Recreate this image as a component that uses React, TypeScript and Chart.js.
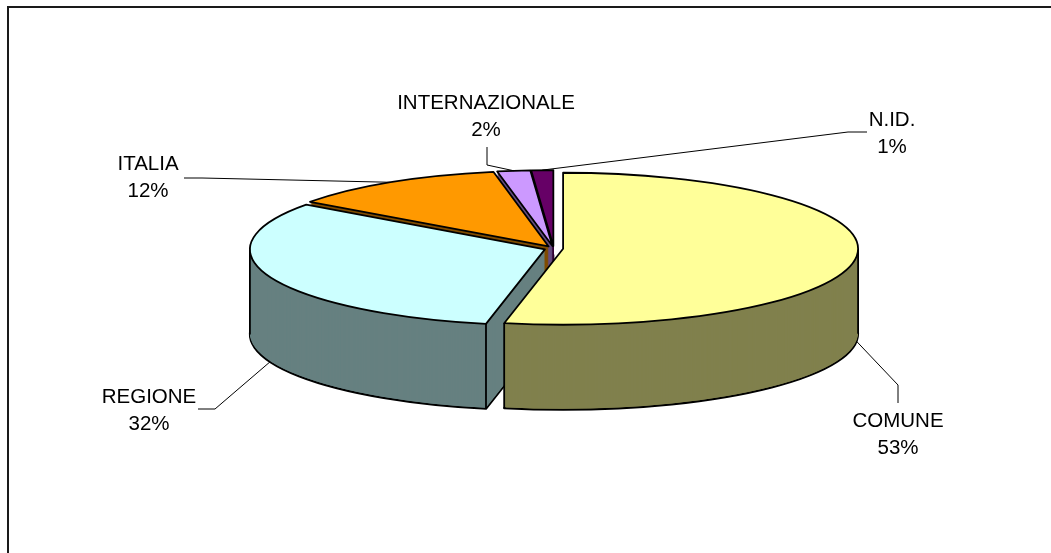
import React, { useEffect, useRef } from 'react';
import { Chart, registerables } from 'chart.js';

Chart.register(...registerables);

// ---- data ----
const categories = ['COMUNE', 'REGIONE', 'ITALIA', 'INTERNAZIONALE', 'N.ID.'];
const values = [53.2, 31.8, 12.0, 1.8, 1.2];
const topColors = ['#FFFF99', '#CCFFFF', '#FF9900', '#CC99FF', '#660066'];
const sideColors = ['#80804D', '#668080', '#804D00', '#664D80', '#330033'];

// ---- layout of the 3D projection ----
const CX = 553.7;
const CY = 248.5;
const RX = 295;
const RY = 76;
const DEPTH = 85;
const EXPLODE = 0.032;

// label text centre and leader-line bend points (screen px)
const labelLayout = [
  { tx: 898, ty: 421, path: [[898, 385], [898, 403]] },
  { tx: 149, ty: 397, path: [[215, 409], [198, 409]] },
  { tx: 148, ty: 164, path: [[202, 178], [184, 178]] },
  { tx: 486, ty: 103, path: [[487, 165], [487, 147]] },
  { tx: 892, ty: 120, path: [[848, 132], [867, 132]] },
];
const LABEL_FONT = '20.5px "Liberation Sans", Arial, sans-serif';
const LINE_GAP = 27;

export default function App() {
  const ref = useRef<HTMLCanvasElement>(null);

  useEffect(() => {
    const canvas = ref.current!;
    const total = values.reduce((a, b) => a + b, 0);
    const TAU = Math.PI * 2;

    const geom = (el: any) => {
      const mid = (el.startAngle + el.endAngle) / 2;
      return {
        mid,
        ox: CX + EXPLODE * RX * Math.cos(mid),
        oy: CY + EXPLODE * RY * Math.sin(mid),
        sx: RX / el.outerRadius,
        sy: RY / el.outerRadius,
      };
    };

    const slicePath = (ctx: CanvasRenderingContext2D, el: any, g: any, dy: number) => {
      ctx.save();
      ctx.translate(g.ox, g.oy + dy);
      ctx.scale(g.sx, g.sy);
      ctx.beginPath();
      ctx.moveTo(0, 0);
      ctx.arc(0, 0, el.outerRadius, el.startAngle, el.endAngle);
      ctx.closePath();
      ctx.restore();
    };

    const contains = (el: any, a: number) => {
      const k = Math.ceil((el.startAngle - a) / TAU);
      const aa = a + k * TAU;
      return aa <= el.endAngle;
    };

    const pie3d = {
      id: 'pie3d',
      beforeDraw(chart: any) {
        const ctx = chart.ctx as CanvasRenderingContext2D;
        ctx.save();
        ctx.fillStyle = '#ffffff';
        ctx.fillRect(0, 0, chart.width, chart.height);
        ctx.fillStyle = '#1a1a1a';
        ctx.fillRect(7, 6, chart.width - 7, 2);
        ctx.fillRect(7, 6, 2, chart.height - 6);
        ctx.restore();
      },
      beforeDatasetsDraw(chart: any) {
        const ctx = chart.ctx as CanvasRenderingContext2D;
        const arcs = chart.getDatasetMeta(0).data as any[];
        const order = arcs
          .map((el, i) => {
            const g = geom(el);
            const key = contains(el, Math.PI / 2) ? 2 : Math.sin(g.mid);
            return { i, key };
          })
          .sort((a, b) => a.key - b.key)
          .map((o) => o.i);

        ctx.save();
        ctx.lineJoin = 'round';
        ctx.strokeStyle = '#000';
        // extrusions
        for (const i of order) {
          const el = arcs[i];
          const g = geom(el);
          ctx.fillStyle = sideColors[i];
          ctx.lineWidth = 2;
          slicePath(ctx, el, g, DEPTH);
          ctx.fill();
          ctx.stroke();
          for (let k = DEPTH - 1; k >= 1; k--) {
            slicePath(ctx, el, g, k);
            ctx.fill();
          }
        }
        // vertical edges
        ctx.lineWidth = 1.8;
        ctx.beginPath();
        for (const i of order) {
          const el = arcs[i];
          const g = geom(el);
          const angs: number[] = [];
          if (Math.sin(el.startAngle) > 0.01) angs.push(el.startAngle);
          if (Math.sin(el.endAngle) > 0.01) angs.push(el.endAngle);
          if (contains(el, 0)) angs.push(0);
          if (contains(el, Math.PI)) angs.push(Math.PI);
          for (const a of angs) {
            const x = g.ox + RX * Math.cos(a);
            const y = g.oy + RY * Math.sin(a);
            ctx.moveTo(x, y);
            ctx.lineTo(x, y + DEPTH);
          }
        }
        ctx.stroke();
        // top faces (library arcs, projected)
        for (const i of order) {
          const el = arcs[i];
          const g = geom(el);
          ctx.save();
          ctx.translate(g.ox, g.oy);
          ctx.scale(g.sx, g.sy);
          ctx.translate(-el.x, -el.y);
          el.draw(ctx);
          ctx.restore();
          ctx.lineWidth = 1.8;
          slicePath(ctx, el, g, 0);
          ctx.stroke();
        }
        ctx.restore();
        return false;
      },
      afterDraw(chart: any) {
        const ctx = chart.ctx as CanvasRenderingContext2D;
        const arcs = chart.getDatasetMeta(0).data as any[];
        ctx.save();
        arcs.forEach((el, i) => {
          const g = geom(el);
          const lay = labelLayout[i];
          const s = Math.sin(g.mid);
          const ax = g.ox + RX * Math.cos(g.mid);
          const ay = g.oy + RY * s + (s > 0 ? DEPTH : 0);
          ctx.strokeStyle = '#000';
          ctx.lineWidth = 1;
          ctx.beginPath();
          ctx.moveTo(ax, ay);
          for (const p of lay.path) ctx.lineTo(p[0], p[1]);
          ctx.stroke();
          ctx.fillStyle = '#000';
          ctx.font = LABEL_FONT;
          ctx.textAlign = 'center';
          ctx.textBaseline = 'middle';
          ctx.fillText(categories[i], lay.tx, lay.ty);
          ctx.fillText(Math.round((values[i] / total) * 100) + '%', lay.tx, lay.ty + LINE_GAP);
        });
        ctx.restore();
      },
    };

    const chart = new Chart(canvas, {
      type: 'pie',
      data: {
        labels: categories,
        datasets: [
          {
            data: values,
            backgroundColor: topColors,
            borderWidth: 0,
            offset: 0,
            hoverOffset: 0,
          },
        ],
      },
      options: {
        responsive: false,
        animation: false,
        events: [],
        layout: { padding: 0 },
        plugins: {
          legend: { display: false },
          tooltip: { enabled: false },
        },
      },
      plugins: [pie3d as any],
    });
    return () => chart.destroy();
  }, []);

  return (
    <canvas
      ref={ref}
      width={1051}
      height={553}
      style={{ position: 'absolute', left: 0, top: 0, width: 1051, height: 553 }}
    />
  );
}
